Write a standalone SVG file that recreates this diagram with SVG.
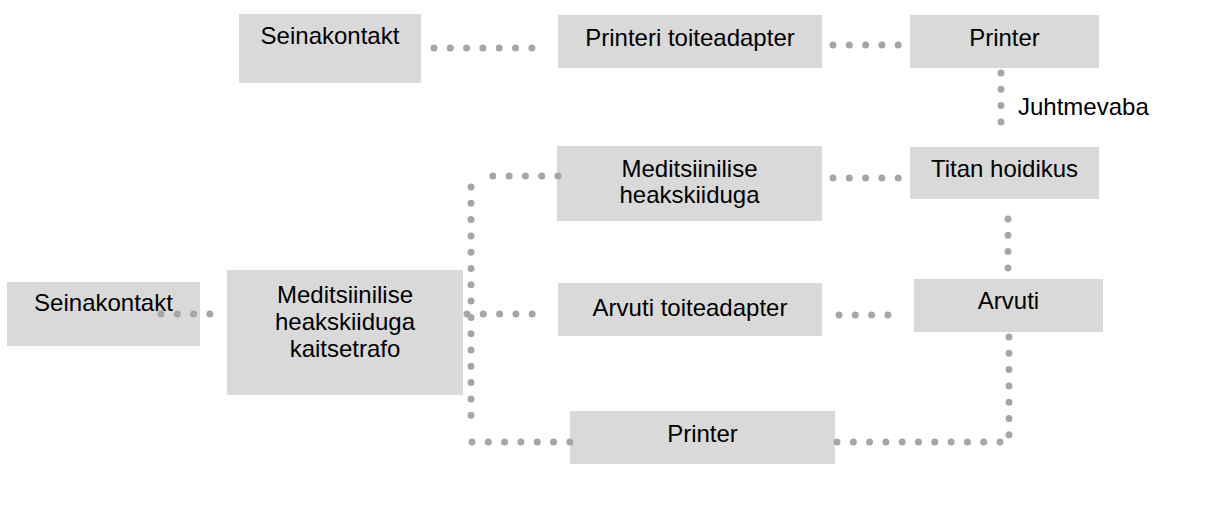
<svg xmlns="http://www.w3.org/2000/svg" width="1215" height="519" viewBox="0 0 1215 519">
<style>
.box{fill:#d9d9d9}
.t{font-family:"Liberation Sans",Arial,sans-serif;font-size:24px;fill:#000;text-anchor:middle}
.lbl{font-family:"Liberation Sans",Arial,sans-serif;font-size:24px;fill:#000}
.c{fill:none;stroke:#a6a6a6;stroke-width:7;stroke-linecap:round;stroke-dasharray:0 16.3}
</style>
<rect width="1215" height="519" fill="#fff"/>
<g id="n-seina-top"><rect class="box" x="239" y="14" width="182" height="69"/><text class="t" x="330" y="44">Seinakontakt</text></g>
<g id="n-printeri-adapter"><rect class="box" x="558" y="15" width="264" height="53"/><text class="t" x="690" y="46">Printeri toiteadapter</text></g>
<g id="n-printer-top"><rect class="box" x="910" y="15" width="189" height="53"/><text class="t" x="1004.5" y="46">Printer</text></g>
<g id="n-titan"><rect class="box" x="910" y="147" width="189" height="52"/><text class="t" x="1004.5" y="177">Titan hoidikus</text></g>
<g id="n-med"><rect class="box" x="557" y="146" width="265" height="75"/><text class="t" x="689.5" y="177">Meditsiinilise</text><text class="t" x="689.5" y="203">heakskiiduga</text></g>
<g id="n-arvuti"><rect class="box" x="914" y="279" width="189" height="53"/><text class="t" x="1008.5" y="309">Arvuti</text></g>
<g id="n-arvuti-adapter"><rect class="box" x="558" y="283" width="264" height="53"/><text class="t" x="690" y="316">Arvuti toiteadapter</text></g>
<g id="n-seina-left"><rect class="box" x="7" y="282" width="193" height="64"/><text class="t" x="103.5" y="311">Seinakontakt</text></g>
<g id="n-trafo"><rect class="box" x="227" y="270" width="236" height="125"/><text class="t" x="345" y="302.5">Meditsiinilise</text><text class="t" x="345" y="329.5">heakskiiduga</text><text class="t" x="345" y="356.5">kaitsetrafo</text></g>
<g id="n-printer-bottom"><rect class="box" x="570" y="411" width="265" height="53"/><text class="t" x="702.5" y="442">Printer</text></g>
<g id="connectors">
<path class="c" d="M434,48 H532"/>
<path class="c" d="M833,45 H899"/>
<path class="c" d="M1001,73 V138"/>
<path class="c" d="M833,178 H899"/>
<path class="c" d="M1008,219 V268"/>
<path class="c" d="M161,314 H225"/>
<path class="c" d="M467,314 H548"/>
<path class="c" d="M839,315 H904"/>
<path class="c" d="M558,176 H477"/>
<path class="c" d="M471,187 V429"/>
<path class="c" d="M472,442 H570"/>
<path class="c" d="M1009,337 V435"/>
<path class="c" d="M837,442 H1000"/>
<text class="lbl" x="1018" y="115">Juhtmevaba</text>
</g>
</svg>
